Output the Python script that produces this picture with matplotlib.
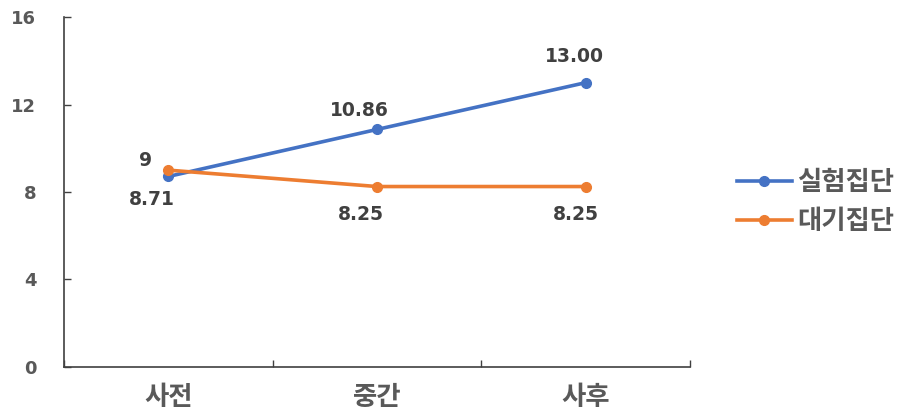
import matplotlib.pyplot as plt

plt.rcParams['font.family'] = ['Noto Sans CJK KR', 'DejaVu Sans']

# data
categories = ['사전', '중간', '사후']
exp_group = [8.71, 10.86, 13.00]
wait_group = [9, 8.25, 8.25]
exp_labels = ['8.71', '10.86', '13.00']
wait_labels = ['9', '8.25', '8.25']
series_names = ['실험집단', '대기집단']

blue = '#4472C4'
orange = '#ED7D31'
grey = '#595959'

fig = plt.figure(figsize=(9.16, 4.13), dpi=100)
ax = fig.add_axes([0.0699, 0.1114, 0.6834, 0.8474])

x = list(range(len(categories)))
ax.plot(x, exp_group, color=blue, lw=2.6, marker='o', ms=7, label=series_names[0], zorder=3)
ax.plot(x, wait_group, color=orange, lw=2.6, marker='o', ms=7, label=series_names[1], zorder=3)

# data labels (offsets in points from the point)
lab_kw = dict(fontsize=13.5, fontweight='bold', color='#404040', ha='center', va='center',
              family='DejaVu Sans', textcoords='offset points')
exp_offsets = [(-12, -16.5), (-13, 13.5), (-8, 19)]
wait_offsets = [(-16.5, 7), (-11.5, -20), (-7, -20)]
for i, (v, t) in enumerate(zip(exp_group, exp_labels)):
    ax.annotate(t, (i, v), xytext=exp_offsets[i], **lab_kw)
for i, (v, t) in enumerate(zip(wait_group, wait_labels)):
    ax.annotate(t, (i, v), xytext=wait_offsets[i], **lab_kw)

ax.set_xlim(-0.5, 2.5)
ax.set_ylim(0, 16)
ax.set_yticks([0, 4, 8, 12, 16])
ax.set_xticks(x)
ax.set_xticklabels(categories, fontsize=19, color=grey, fontweight='bold')
ax.set_xticks([-0.5, 0.5, 1.5, 2.5], minor=True)
ax.tick_params(axis='x', which='major', length=0, pad=12)
ax.tick_params(axis='x', which='minor', direction='in', length=5, width=1, color='#404040')
ax.tick_params(axis='y', direction='in', length=5, width=1, color='#404040', pad=20,
               labelsize=13, labelcolor=grey)
for lbl in ax.get_yticklabels():
    lbl.set_fontweight('bold')
    lbl.set_family('DejaVu Sans')

for s in ['top', 'right']:
    ax.spines[s].set_visible(False)
for s in ['left', 'bottom']:
    ax.spines[s].set_color('#404040')
    ax.spines[s].set_linewidth(1.2)

leg = fig.legend(loc='center left', bbox_to_anchor=(0.8046, 0.511), frameon=False,
                 prop={'size': 19, 'weight': 'bold'}, handlelength=2.08, handletextpad=0.2,
                 labelspacing=0.45, labelcolor=grey, borderpad=0, borderaxespad=0)

fig.savefig('out.png', dpi=100)
